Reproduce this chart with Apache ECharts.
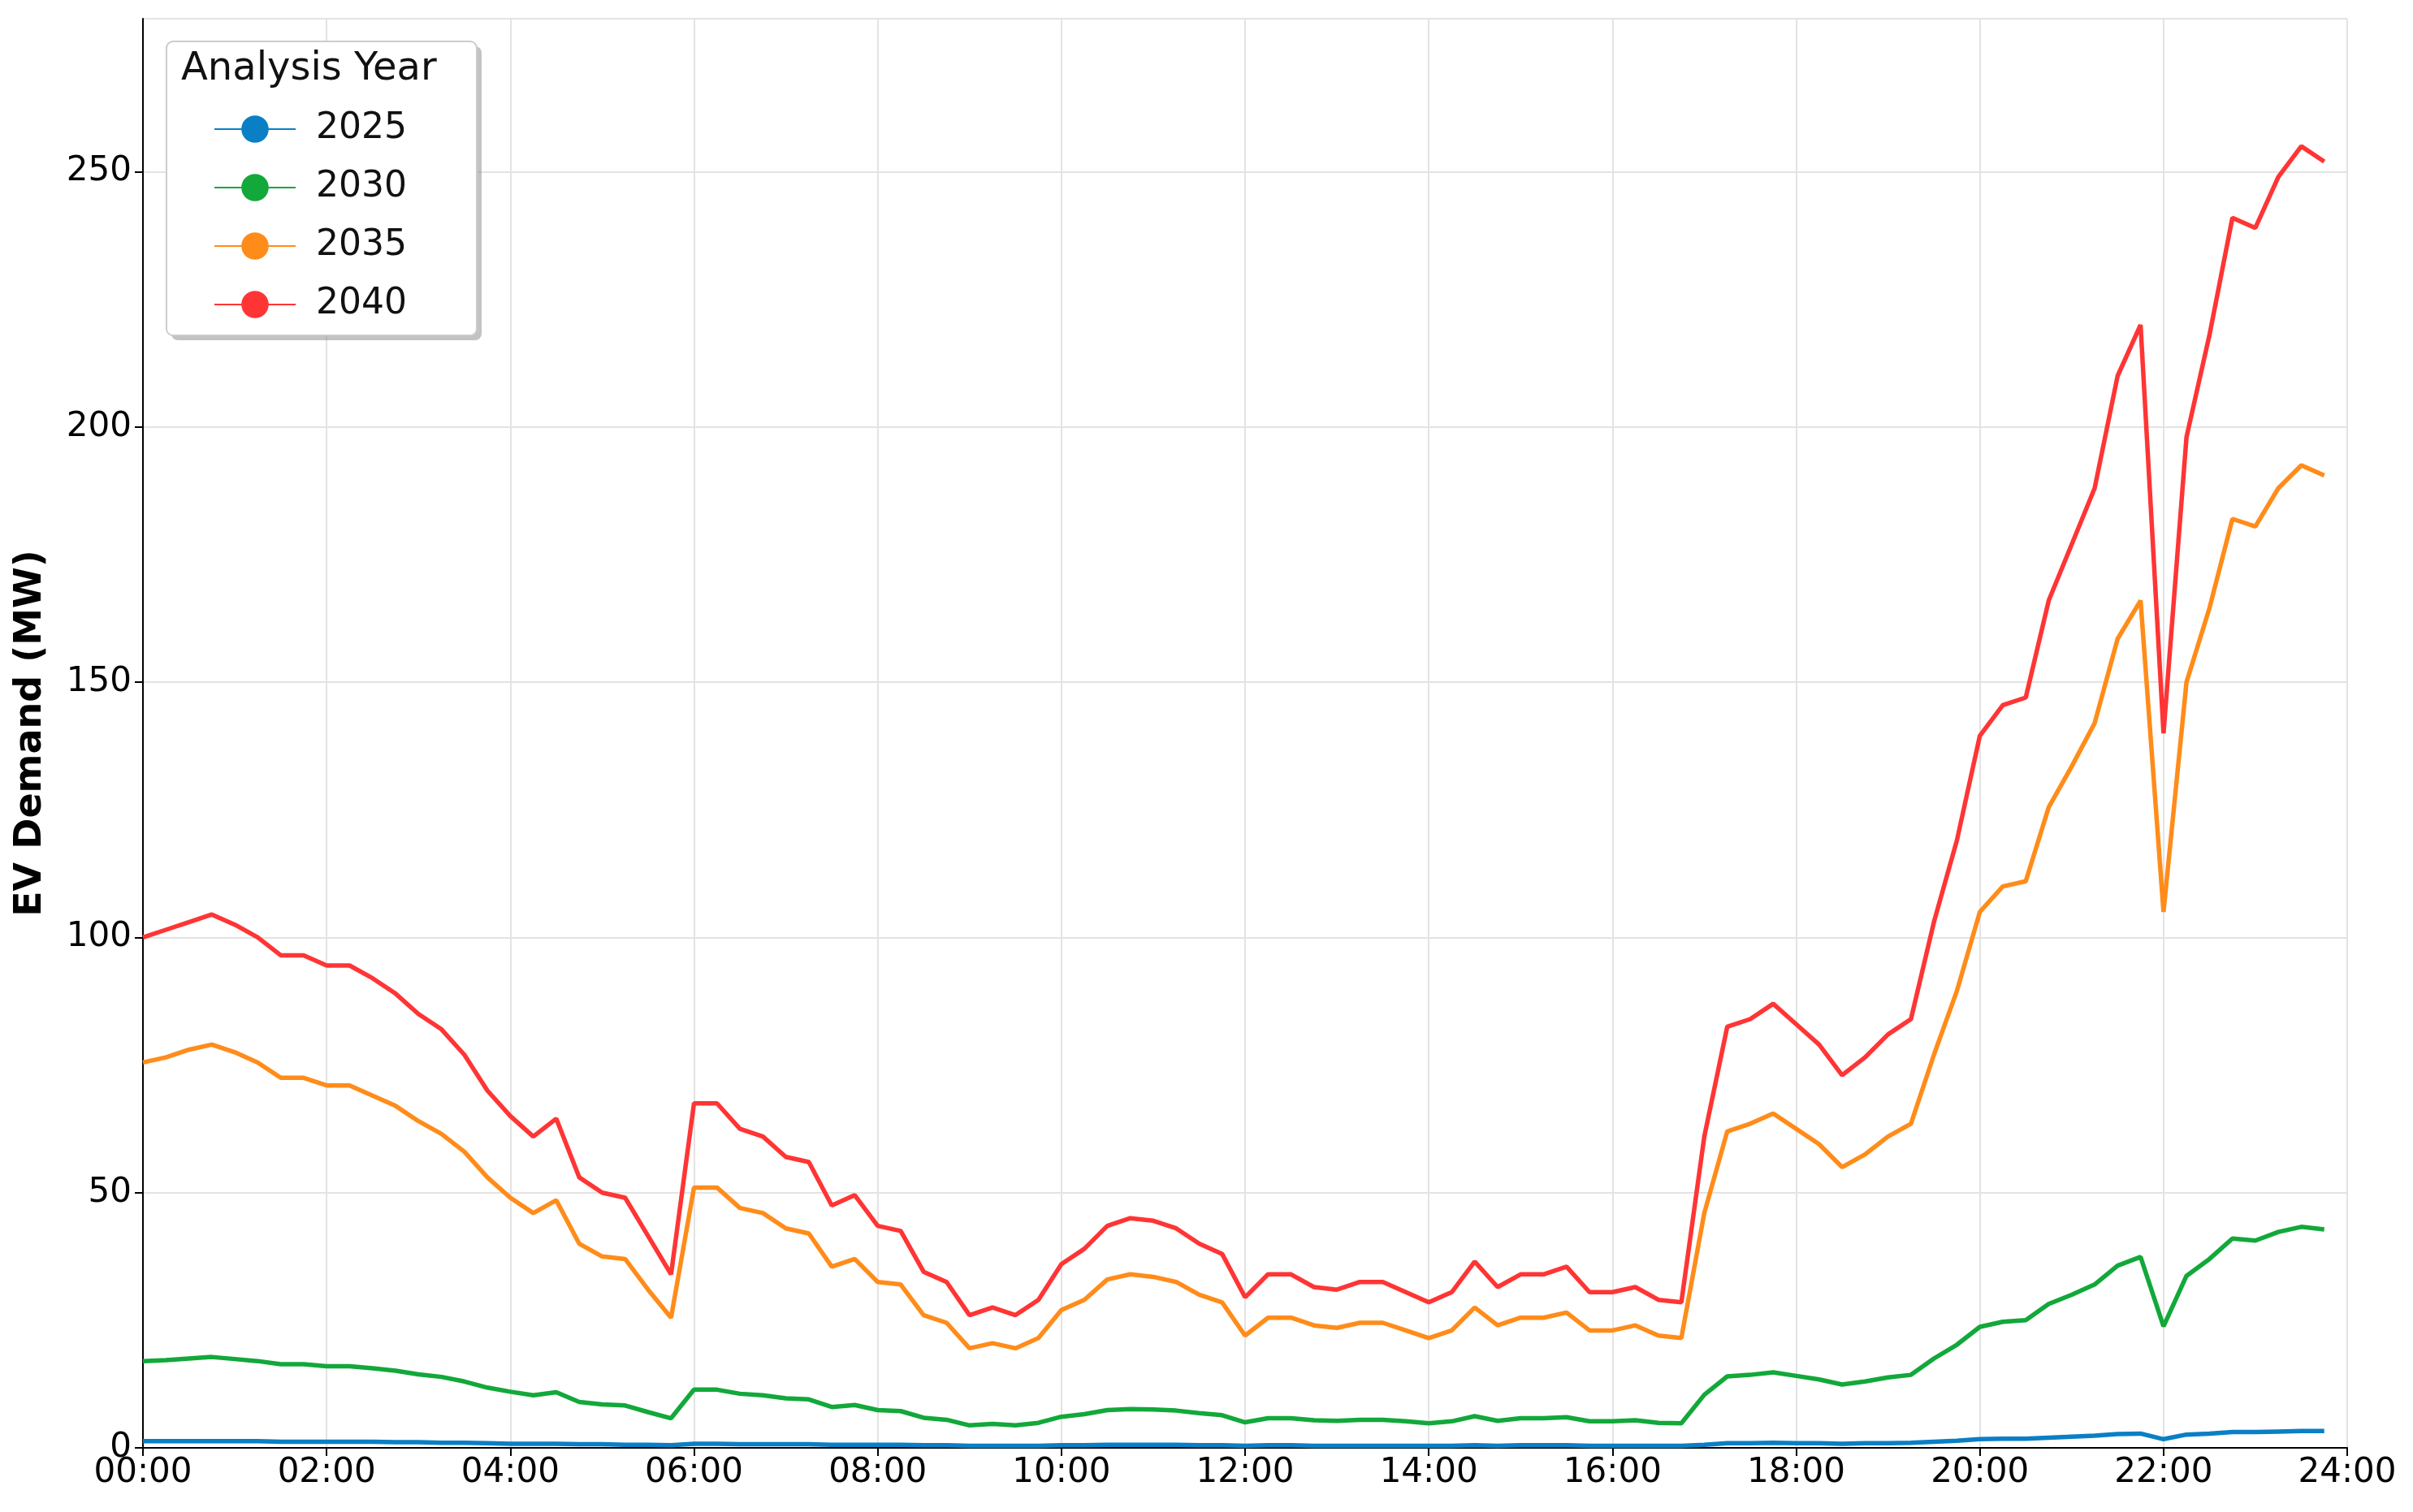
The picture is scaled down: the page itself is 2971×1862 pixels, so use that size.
<!DOCTYPE html>
<html>
<head>
<meta charset="utf-8">
<script src="https://cdn.jsdelivr.net/npm/echarts@6/dist/echarts.min.js"></script>
<style>html,body{margin:0;padding:0;background:#fff}#main{width:2971px;height:1862px}</style>
</head>
<body>
<div id="main"></div>
<script>
// 15-minute steps, 00:00 .. 23:45
var minutes = [];
for (var i = 0; i < 96; i++) minutes.push(i * 15);

var y2025 = [1.3,1.3,1.3,1.3,1.3,1.3,1.2,1.2,1.2,1.2,1.2,1.1,1.1,1.0,1.0,0.9,0.8,0.8,0.8,0.7,0.7,0.6,0.6,0.5,0.8,0.8,0.7,0.7,0.7,0.7,0.6,0.6,0.6,0.6,0.5,0.5,0.4,0.4,0.4,0.4,0.5,0.5,0.6,0.6,0.6,0.6,0.5,0.5,0.4,0.5,0.5,0.4,0.4,0.4,0.4,0.4,0.4,0.4,0.5,0.4,0.5,0.5,0.5,0.4,0.4,0.4,0.4,0.4,0.6,0.9,0.9,1.0,0.9,0.9,0.8,0.9,0.9,1.0,1.2,1.4,1.7,1.8,1.8,2.0,2.2,2.4,2.7,2.8,1.7,2.6,2.8,3.1,3.1,3.2,3.3,3.3];
var y2030 = [17,17.2,17.5,17.8,17.4,17,16.4,16.4,16,16,15.6,15.1,14.4,13.9,13,11.8,11,10.3,10.9,9,8.5,8.3,7,5.8,11.4,11.4,10.6,10.3,9.7,9.5,8,8.4,7.4,7.2,5.9,5.5,4.4,4.7,4.4,4.9,6.1,6.6,7.4,7.6,7.5,7.3,6.8,6.4,5,5.8,5.8,5.4,5.3,5.5,5.5,5.2,4.8,5.2,6.2,5.3,5.8,5.8,6,5.2,5.2,5.4,4.9,4.8,10.4,14,14.3,14.8,14.1,13.4,12.4,13,13.8,14.3,17.5,20.2,23.7,24.7,25,28.2,30,32,35.7,37.4,23.8,33.7,37,41,40.6,42.3,43.3,42.8];
var y2035 = [75.5,76.5,78,79,77.5,75.5,72.5,72.5,71,71,69,67,64,61.5,58,53,49,46,48.5,40,37.5,37,31,25.5,51,51,47,46,43,42,35.5,37,32.5,32,26,24.5,19.5,20.5,19.5,21.5,27,29,33,34,33.5,32.5,30,28.5,22,25.5,25.5,24,23.5,24.5,24.5,23,21.5,23,27.5,24,25.5,25.5,26.5,23,23,24,22,21.5,46,62,63.5,65.5,62.5,59.5,55,57.5,61,63.5,77,89.5,105,110,111,125.5,133.5,142,158.5,166,105,150,164.5,182,180.5,188,192.5,190.5];
var y2040 = [100,101.5,103,104.5,102.5,100,96.5,96.5,94.5,94.5,92,89,85,82,77,70,65,61,64.5,53,50,49,41.5,34,67.5,67.5,62.5,61,57,56,47.5,49.5,43.5,42.5,34.5,32.5,26,27.5,26,29,36,39,43.5,45,44.5,43,40,38,29.5,34,34,31.5,31,32.5,32.5,30.5,28.5,30.5,36.5,31.5,34,34,35.5,30.5,30.5,31.5,29,28.5,61,82.5,84,87,83,79,73,76.5,81,84,103,119,139.5,145.5,147,166,177,188,210,220,140,198,218,241,239,249,255,252];

var years = ['2025', '2030', '2035', '2040'];
var values = [y2025, y2030, y2035, y2040];
var colors = ['#0a7fc5', '#12a83a', '#ff8c1a', '#ff3535'];

function pad(n) { return (n < 10 ? '0' : '') + n; }

var chart = echarts.init(document.getElementById('main'));
chart.setOption({
  animation: false,
  backgroundColor: '#fff',
  grid: { left: 176, right: 81, top: 23, bottom: 79 },
  graphic: [
    { type: 'rect', shape: { x: 211, y: 57, width: 382, height: 362, r: 8 },
      style: { fill: '#888', opacity: 0.5 }, z: 99 },
    { type: 'rect', shape: { x: 205, y: 51, width: 382, height: 362, r: 8 },
      style: { fill: '#fff', stroke: '#ccc', lineWidth: 2 }, z: 100 },
    { type: 'text', left: 223, top: 62, z: 101,
      style: { text: 'Analysis Year', font: '48px "DejaVu Sans"', fill: '#111' } }
  ],
  legend: {
    data: years, orient: 'vertical', left: 258, top: 132, itemGap: 28,
    itemWidth: 100, itemHeight: 42, z: 102,
    textStyle: { fontSize: 44, fontFamily: 'DejaVu Sans', color: '#111', padding: [0, 0, 0, 20] }
  },
  xAxis: {
    type: 'value', min: 0, max: 1440, interval: 120,
    axisLine: { lineStyle: { color: '#000', width: 2 } },
    axisTick: { show: true, length: 10, lineStyle: { color: '#000', width: 2 } },
    axisLabel: { fontSize: 42, fontFamily: 'DejaVu Sans', color: '#000', margin: 10,
      formatter: function (v) { return pad(v / 60) + ':00'; } },
    splitLine: { show: true, lineStyle: { color: '#e3e3e3', width: 2 } }
  },
  yAxis: {
    type: 'value', min: 0, max: 280, interval: 50,
    name: 'EV Demand (MW)', nameLocation: 'middle', nameGap: 115,
    nameTextStyle: { fontSize: 46, fontWeight: 'bold', fontFamily: 'DejaVu Sans', color: '#000' },
    axisLine: { show: true, lineStyle: { color: '#000', width: 2 } },
    axisTick: { show: true, length: 10, lineStyle: { color: '#000', width: 2 } },
    axisLabel: { fontSize: 42, fontFamily: 'DejaVu Sans', color: '#000', margin: 14,
      showMaxLabel: false },
    splitLine: { show: true, lineStyle: { color: '#e3e3e3', width: 2 } }
  },
  series: years.map(function (y, k) {
    return {
      name: y, type: 'line', showSymbol: false, symbol: 'none',
      color: colors[k], lineStyle: { width: 5.5, color: colors[k] },
      data: minutes.map(function (m, i) { return [m, values[k][i]]; })
    };
  })
});
</script>
</body>
</html>
